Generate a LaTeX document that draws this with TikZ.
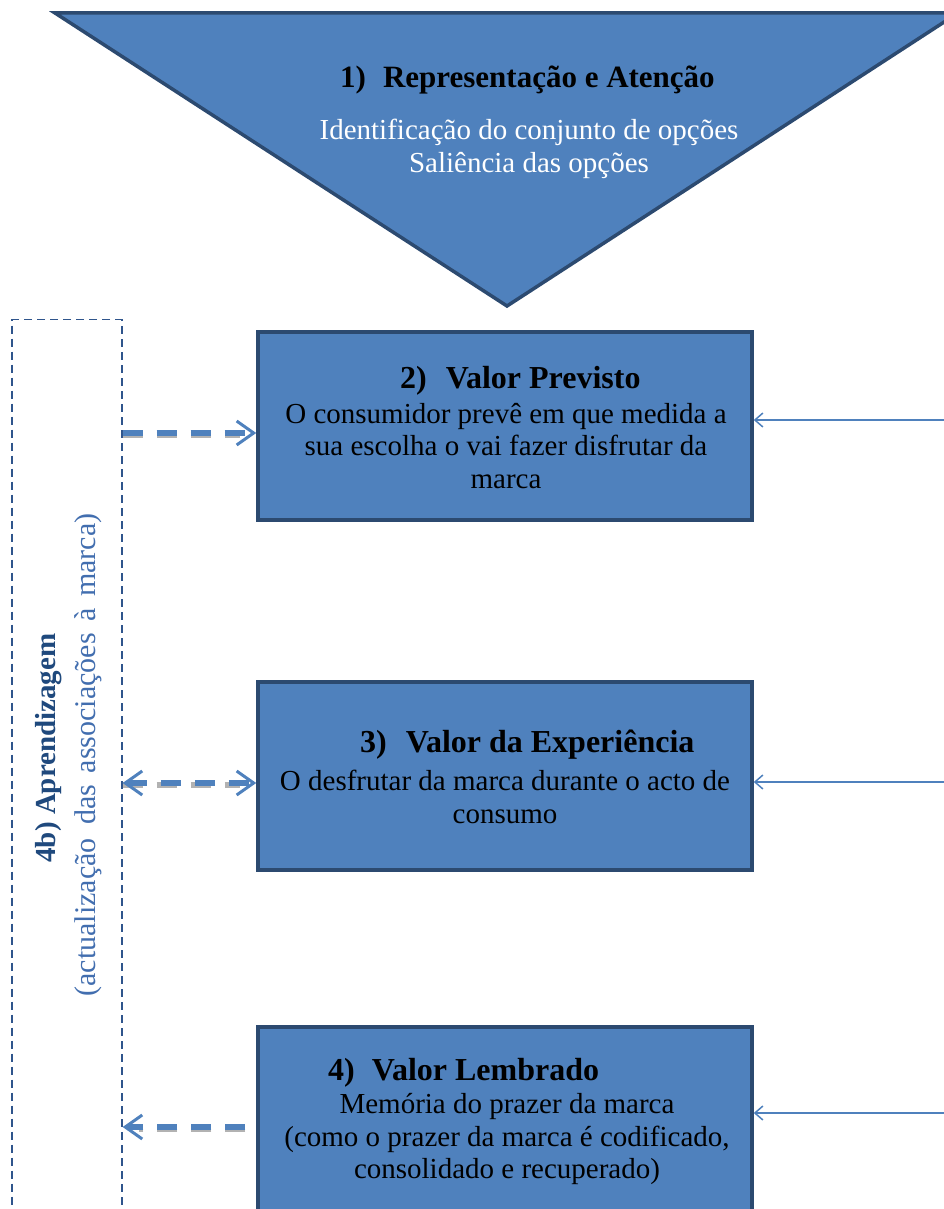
\documentclass[tikz,border=0pt]{standalone}
\usepackage{fontspec}
\setmainfont{Liberation Serif}
\usetikzlibrary{arrows.meta}
\definecolor{fillblue}{RGB}{79,129,189}
\definecolor{edgeblue}{RGB}{44,74,112}
\definecolor{dashblue}{RGB}{47,85,140}
\definecolor{titleblue}{RGB}{31,73,125}
\definecolor{subblue}{RGB}{66,110,175}
\definecolor{arrowblue}{RGB}{79,129,189}
\tikzset{
  stagebox/.style={draw=edgeblue, line width=3.5pt, fill=fillblue, minimum width=494pt, inner sep=0pt},
  titletxt/.style={anchor=west, font=\fontsize{32}{36}\selectfont\bfseries, text=black, inner sep=0pt},
  bodytxt/.style={align=center, font=\fontsize{29}{32.5}\selectfont, text=black, inner sep=0pt},
  learnbox/.style={draw=dashblue, line width=1.3pt, dash pattern=on 8pt off 5pt, minimum width=110pt, minimum height=905pt, inner sep=0pt},
  bigdash/.style={draw=arrowblue, line width=6.5pt, dash pattern=on 20pt off 14pt},
  bigshadow/.style={draw=black!30, line width=6.5pt, dash pattern=on 20pt off 14pt},
  thinarrow/.style={draw=arrowblue, line width=2pt, -{Straight Barb[length=8pt, width=14pt, line width=1.5pt]}}
}
\begin{document}
\begin{tikzpicture}[x=1pt, y=-1pt]
\useasboundingbox (0,0) rectangle (944,1209);
\clip (0,0) rectangle (944,1209);
% triangle
\draw[draw=edgeblue, line width=3.5pt, fill=fillblue, line join=miter] (55,13) -- (958,13) -- (507,306) -- cycle;
\node[titletxt, font=\fontsize{31}{35}\selectfont\bfseries] (t1) at (340,80) {1)\hspace{17pt}Representação e Atenção};
\node[bodytxt, text=white] (t1b) at (529,149) {Identificação do conjunto de opções\\Saliência das opções};
% boxes
\node[stagebox, minimum height=188pt] (b2) at (505,426) {};
\node[titletxt] (b2t) at (400,381) {2)\hspace{19pt}Valor Previsto};
\node[bodytxt] (b2b) at (506,446) {O consumidor prevê em que medida a\\sua escolha o vai fazer disfrutar da\\marca};
\node[stagebox, minimum height=188pt] (b3) at (505,776) {};
\node[titletxt] (b3t) at (360,745) {3)\hspace{19pt}Valor da Experiência};
\node[bodytxt] (b3b) at (505,797) {O desfrutar da marca durante o acto de\\consumo};
\node[stagebox, minimum height=198pt] (b4) at (505,1126) {};
\node[titletxt] (b4t) at (328,1073) {4)\hspace{17pt}Valor Lembrado};
\node[bodytxt] (b4b) at (507,1139) {Memória do prazer da marca\\(como o prazer da marca é codificado,\\consolidado e recuperado)};
% learning box
\node[learnbox] (learn) at (67,772) {};
\node[rotate=90, font=\fontsize{29}{32}\selectfont\bfseries, text=titleblue, inner sep=0pt] (l1) at (49,748) {4b) Aprendizagem};
\node[rotate=90, font=\fontsize{30}{33}\selectfont, text=subblue, inner sep=0pt] (l2) at (88,755) {(actualização\hspace{6pt} das\hspace{4pt} associações\hspace{4pt} à\hspace{4pt} marca)};
% dashed arrows with shadow
\draw[bigshadow] ([yshift=-9pt]b2.west -| learn.east) -- ([xshift=-16pt,yshift=-9pt]b2.west);
\draw[bigdash, -{Straight Barb[length=17pt, width=24pt, line width=3pt]}] ([yshift=-7pt]b2.west -| learn.east) -- ([yshift=-7pt]b2.west);
\draw[bigshadow] ([yshift=-9pt]b3.west -| learn.east) -- ([xshift=-16pt,yshift=-9pt]b3.west);
\draw[bigdash, {Straight Barb[length=17pt, width=24pt, line width=3pt]}-{Straight Barb[length=17pt, width=24pt, line width=3pt]}] ([yshift=-7pt]b3.west -| learn.east) -- ([yshift=-7pt]b3.west);
\draw[bigshadow] ([xshift=-11pt,yshift=-3pt]b4.west) -- ([xshift=16pt,yshift=-3pt]b4.west -| learn.east);
\draw[bigdash, -{Straight Barb[length=17pt, width=24pt, line width=3pt]}] ([xshift=-11pt,yshift=-1pt]b4.west) -- ([yshift=-1pt]b4.west -| learn.east);
% right thin arrows
\coordinate (r2) at (960,420);
\coordinate (r3) at (960,782);
\coordinate (r4) at (960,1113);
\draw[thinarrow] (r2) -- (r2 -| b2.east);
\draw[thinarrow] (r3) -- (r3 -| b3.east);
\draw[thinarrow] (r4) -- (r4 -| b4.east);
\end{tikzpicture}
\end{document}
